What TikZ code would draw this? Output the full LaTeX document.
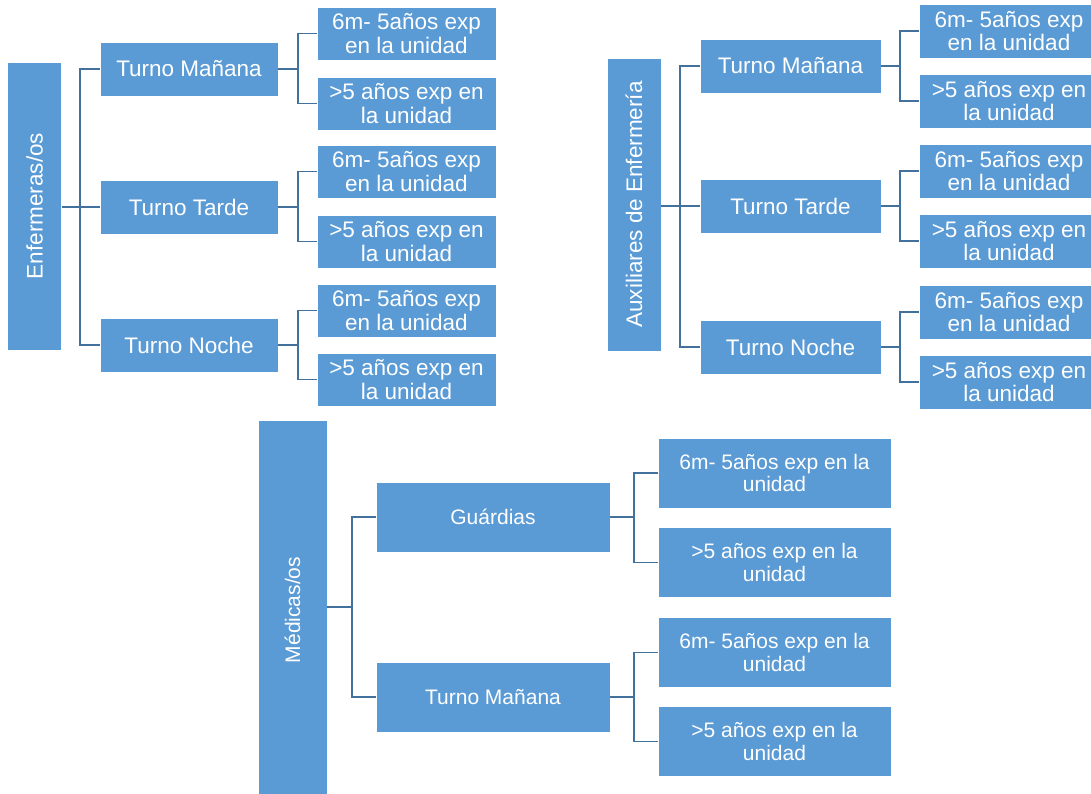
\documentclass[tikz,border=0pt]{standalone}
\usepackage{fontspec}
\setmainfont{Liberation Sans}
\definecolor{boxblue}{HTML}{5B9BD5}
\definecolor{lineblue}{HTML}{41719C}
\tikzset{
  box/.style={fill=boxblue, draw=white, line width=0.8pt, text=white, inner sep=0pt, align=center,
    font=\fontsize{22.5}{23.5}\selectfont},
  sbox/.style={box, font=\fontsize{21}{22.5}\selectfont},
  topbranch/.style={box, minimum width=178pt, minimum height=54pt},
  leaf/.style={box, minimum width=179pt, minimum height=53pt},
  rootbox/.style={box, minimum width=54pt},
  conn/.style={draw=lineblue, line width=1.8pt}
}
\begin{document}
\begin{tikzpicture}[x=1pt,y=-1pt]
\useasboundingbox (0,0) rectangle (1091,793);
\clip (0,0) rectangle (1091,793);
% ---------- left group ----------
\node[rootbox, minimum height=288pt] (eroot) at (34.5,206) {\rotatebox{90}{Enfermeras/os}};
\node[topbranch] (em) at (189,69) {Turno Mañana};
\node[topbranch] (et) at (189,207) {Turno Tarde};
\node[topbranch] (en) at (189,345) {Turno Noche};
\node[leaf] (em1) at (406.5,33.5) {6m- 5años exp\\en la unidad};
\node[leaf] (em2) at (406.5,103.5) {>5 años exp en\\la unidad};
\node[leaf] (et1) at (406.5,171.5) {6m- 5años exp\\en la unidad};
\node[leaf] (et2) at (406.5,241.5) {>5 años exp en\\la unidad};
\node[leaf] (en1) at (406.5,310.5) {6m- 5años exp\\en la unidad};
\node[leaf] (en2) at (406.5,379.5) {>5 años exp en\\la unidad};
\draw[conn] (eroot.east |- et.west) -- (et.west);
\draw[conn] (em.west) -- ++(-20,0) |- (en.west);
\foreach \b in {em,et,en}{
  \draw[conn] (\b.east) -- ++(20,0);
  \draw[conn] (\b1.west) -- ++(-19,0) |- (\b2.west);
}
% ---------- right group ----------
\node[rootbox, minimum height=293pt] (aroot) at (634,204.5) {\rotatebox{90}{Auxiliares de Enfermería}};
\node[topbranch, minimum width=181pt] (am) at (790.5,66) {Turno Mañana};
\node[topbranch, minimum width=181pt] (at) at (790.5,206) {Turno Tarde};
\node[topbranch, minimum width=181pt] (an) at (790.5,347) {Turno Noche};
\node[leaf, minimum height=54pt] (am1) at (1009,31) {6m- 5años exp\\en la unidad};
\node[leaf, minimum height=54pt] (am2) at (1009,101) {>5 años exp en\\la unidad};
\node[leaf, minimum height=54pt] (at1) at (1009,171) {6m- 5años exp\\en la unidad};
\node[leaf, minimum height=54pt] (at2) at (1009,241) {>5 años exp en\\la unidad};
\node[leaf, minimum height=54pt] (an1) at (1009,312) {6m- 5años exp\\en la unidad};
\node[leaf, minimum height=54pt] (an2) at (1009,382) {>5 años exp en\\la unidad};
\draw[conn] (aroot.east |- at.west) -- (at.west);
\draw[conn] (am.west) -- ++(-20,0) |- (an.west);
\foreach \b in {am,at,an}{
  \draw[conn] (\b.east) -- ++(20,0);
  \draw[conn] (\b1.west) -- ++(-19,0) |- (\b2.west);
}
% ---------- bottom group ----------
\node[sbox, minimum width=69pt, minimum height=380pt] (mroot) at (292.5,610) {\rotatebox{90}{Médicas/os}};
\node[sbox, minimum width=234pt, minimum height=70pt] (mg) at (493,517) {Guárdias};
\node[sbox, minimum width=234pt, minimum height=70pt] (mm) at (493,697) {Turno Mañana};
\node[sbox, minimum width=233pt, minimum height=70pt] (mg1) at (774.5,473) {6m- 5años exp en la\\unidad};
\node[sbox, minimum width=233pt, minimum height=70pt] (mg2) at (774.5,562.5) {>5 años exp en la\\unidad};
\node[sbox, minimum width=233pt, minimum height=70pt] (mm1) at (774.5,652.5) {6m- 5años exp en la\\unidad};
\node[sbox, minimum width=233pt, minimum height=70pt] (mm2) at (774.5,741.5) {>5 años exp en la\\unidad};
\draw[conn] (mroot.east |- 0,607) -- ++(25,0);
\draw[conn] (mg.west) -- ++(-24,0) |- (mm.west);
\foreach \b in {mg,mm}{
  \draw[conn] (\b.east) -- ++(24,0);
  \draw[conn] (\b1.west) -- ++(-24,0) |- (\b2.west);
}
\end{tikzpicture}
\end{document}
